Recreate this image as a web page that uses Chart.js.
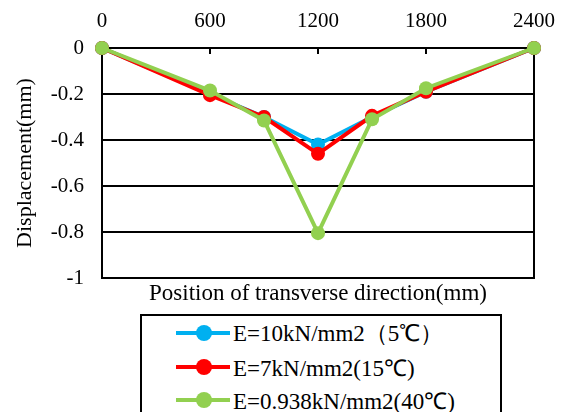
<!DOCTYPE html>
<html>
<head>
<meta charset="utf-8">
<script src="https://cdn.jsdelivr.net/npm/chart.js@4.4.1/dist/chart.umd.min.js"></script>
<style>
  body { margin: 0; background: #fff; }
  #wrap { position: relative; width: 569px; height: 412px; overflow: hidden; }
  #legend {
    position: absolute; left: 140px; top: 314px; width: 358px; height: 120px;
    border: 2px solid #000; background: #fff;
    font-family: "Liberation Serif", serif; font-size: 23px; color: #000;
  }
  .item { position: absolute; left: 34px; height: 30px; display: flex; align-items: center; white-space: nowrap; }
  .mark { position: relative; width: 54px; height: 4px; margin-right: 3px; }
  .mark span { position: absolute; left: 20px; top: -6px; width: 16px; height: 16px; border-radius: 50%; }
</style>
</head>
<body>
<div id="wrap">
  <canvas id="chart" width="569" height="412"></canvas>
  <div id="legend"></div>
</div>
<script>
//x positions (mm) and displacement values (mm)
const positions = [0, 600, 900, 1200, 1500, 1800, 2400];
const e10 = [0, -0.2, -0.3, -0.42, -0.3, -0.19, 0];
const e7 = [0, -0.205, -0.3, -0.46, -0.295, -0.19, 0];
const e0938 = [0, -0.185, -0.315, -0.805, -0.31, -0.175, 0];

const seriesNames = ['E=10kN/mm2（5℃）', 'E=7kN/mm2(15℃)', 'E=0.938kN/mm2(40℃)'];
const seriesColors = ['#00B0F0', '#FF0000', '#92D050'];
const seriesValues = [e10, e7, e0938];

Chart.defaults.font.family = 'Liberation Serif';
Chart.defaults.font.size = 21;
Chart.defaults.color = '#000';

//build datasets, green on top of red on top of blue
const datasets = seriesValues.map((vals, i) => ({
    label: seriesNames[i],
    data: vals.map((v, j) => ({x: positions[j], y: v})),
    borderColor: seriesColors[i],
    backgroundColor: seriesColors[i],
    borderWidth: 4,
    pointRadius: 7,
    pointHoverRadius: 7,
    pointBorderWidth: 0,
    order: 3 - i,
    clip: false
}));

//frame round the plot + small tick marks under the top axis line
const framePlugin = {
    id: 'frame',
    beforeDatasetsDraw(chart) {
        const ctx = chart.ctx;
        const a = chart.chartArea;
        const x = chart.scales.x;
        ctx.save();
        ctx.strokeStyle = '#000';
        ctx.lineWidth = 2;
        ctx.strokeRect(a.left, a.top, a.right - a.left, a.bottom - a.top);
        ctx.beginPath();
        [600, 1200, 1800].forEach(v => {
            const px = Math.round(x.getPixelForValue(v));
            ctx.moveTo(px, a.top);
            ctx.lineTo(px, a.top + 6);
        });
        ctx.stroke();
        ctx.restore();
    }
};

function draw() {
    const ctx = document.getElementById('chart').getContext('2d');
    new Chart(ctx, {
        type: 'line',
        data: { datasets: datasets },
        options: {
            responsive: false,
            animation: false,
            layout: { padding: { left: 0, right: 32, top: 0, bottom: 104 } },
            plugins: { legend: { display: false }, tooltip: { enabled: false } },
            scales: {
                x: {
                    type: 'linear',
                    position: 'top',
                    min: 0, max: 2400,
                    ticks: { stepSize: 600, padding: 14, callback: v => String(v) },
                    grid: { display: false, drawTicks: false },
                    border: { display: true, color: '#000', width: 2 },
                    afterFit(s) { s.height = 48; }
                },
                x2: {
                    type: 'linear',
                    position: 'bottom',
                    min: 0, max: 2400,
                    ticks: { display: false },
                    grid: { display: false, drawTicks: false },
                    border: { display: false },
                    title: { display: true, text: 'Position of transverse direction(mm)',
                        font: { size: 23 }, padding: { top: 2, bottom: 0 } },
                    afterFit(s) { s.height = 30; }
                },
                y: {
                    min: -1, max: 0,
                    ticks: {
                        stepSize: 0.2, padding: 18,
                        callback: v => String(Number(v.toFixed(1)))
                    },
                    grid: { color: '#000', lineWidth: 2, drawTicks: false },
                    border: { display: true, color: '#000', width: 2 },
                    title: { display: true, text: 'Displacement(mm)', font: { size: 22 },
                        padding: { top: 12, bottom: 0 } },
                    afterFit(s) { s.width = 102; }
                }
            }
        },
        plugins: [framePlugin]
    });
}

//legend in a box under the chart
const legend = document.getElementById('legend');
seriesNames.forEach((name, i) => {
    const item = document.createElement('div');
    item.className = 'item';
    item.style.top = (2 + i * 33.5) + 'px';
    item.innerHTML = '<div class="mark" style="background:' + seriesColors[i] + '"><span style="background:' +
        seriesColors[i] + '"></span></div>' + name;
    legend.appendChild(item);
});

document.fonts.load('21px "Liberation Serif"').then(draw, draw);
</script>
</body>
</html>
